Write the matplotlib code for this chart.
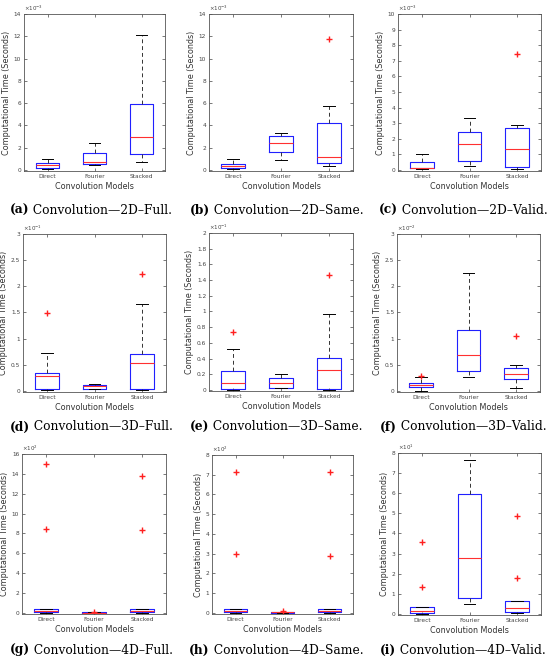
import matplotlib.pyplot as plt

models = ['Direct', 'Fourier', 'Stacked']

# per panel: one row per model -> (whislo, q1, med, q3, whishi), plus outliers
stats_2d_full = [(0.12, 0.2, 0.45, 0.66, 0.96), (0.45, 0.54, 0.69, 1.53, 2.45), (0.69, 1.47, 2.93, 5.95, 12.08)]
fliers_2d_full = [[], [], []]
stats_2d_same = [(0.05, 0.15, 0.36, 0.51, 1.02), (0.87, 1.65, 2.45, 3.05, 3.35), (0.39, 0.66, 1.17, 4.19, 5.71)]
fliers_2d_same = [[], [], [11.73]]
stats_2d_valid = [(0.06, 0.1, 0.15, 0.53, 1.05), (0.26, 0.58, 1.69, 2.46, 3.35), (0.09, 0.21, 1.35, 2.71, 2.88)]
fliers_2d_valid = [[], [], [7.45]]

stats_3d_full = [(0.01, 0.04, 0.28, 0.35, 0.72), (0.03, 0.04, 0.085, 0.12, 0.14), (0.02, 0.04, 0.53, 0.71, 1.67)]
fliers_3d_full = [[1.49], [], [2.24]]
stats_3d_same = [(0.0, 0.01, 0.093, 0.236, 0.52), (0.02, 0.03, 0.093, 0.15, 0.204), (0.005, 0.01, 0.258, 0.41, 0.97)]
fliers_3d_same = [[0.74], [], [1.46]]
stats_3d_valid = [(0.0, 0.07, 0.12, 0.16, 0.27), (0.26, 0.38, 0.68, 1.16, 2.25), (0.05, 0.23, 0.33, 0.43, 0.49)]
fliers_3d_valid = [[0.28], [], [1.05]]

stats_4d_full = [(0.0, 0.05, 0.2, 0.4, 0.4), (0.0, 0.01, 0.03, 0.06, 0.08), (0.0, 0.05, 0.2, 0.42, 0.42)]
fliers_4d_full = [[15.02, 8.44], [0.1], [13.8, 8.37]]
stats_4d_same = [(0.0, 0.03, 0.1, 0.22, 0.22), (0.0, 0.01, 0.04, 0.06, 0.06), (0.0, 0.03, 0.1, 0.22, 0.22)]
fliers_4d_same = [[7.15, 2.96], [0.1], [7.13, 2.89]]
stats_4d_valid = [(0.0, 0.05, 0.16, 0.32, 0.34), (0.48, 0.78, 2.76, 5.94, 7.66), (0.03, 0.07, 0.27, 0.66, 0.66)]
fliers_4d_valid = [[3.59, 1.33], [], [4.87, 1.79]]

exponents = [-3, -3, -3, -1, -1, -2, 2, 2, 1]
y_tops = [14, 14, 10, 3, 2, 3, 16, 8, 8]
y_steps = [2, 2, 1, 0.5, 0.2, 0.5, 2, 1, 1]
captions = [('(a)', 'Convolution—2D–Full.'), ('(b)', 'Convolution—2D–Same.'),
            ('(c)', 'Convolution—2D–Valid.'), ('(d)', 'Convolution—3D–Full.'),
            ('(e)', 'Convolution—3D–Same.'), ('(f)', 'Convolution—3D–Valid.'),
            ('(g)', 'Convolution—4D–Full.'), ('(h)', 'Convolution—4D–Same.'),
            ('(i)', 'Convolution—4D–Valid.')]

all_stats = [stats_2d_full, stats_2d_same, stats_2d_valid,
             stats_3d_full, stats_3d_same, stats_3d_valid,
             stats_4d_full, stats_4d_same, stats_4d_valid]
all_fliers = [fliers_2d_full, fliers_2d_same, fliers_2d_valid,
              fliers_3d_full, fliers_3d_same, fliers_3d_valid,
              fliers_4d_full, fliers_4d_same, fliers_4d_valid]

W, H = 550, 662
fig = plt.figure(figsize=(W / 100, H / 100), dpi=100)

# axes boxes in pixels: left, top, right, bottom
boxes = [(24, 14, 165, 171), (209, 14, 353, 171), (398, 14, 541, 171),
         (23, 234, 166, 392), (209, 233, 353, 391), (397, 234, 540, 392),
         (22, 454, 166, 614), (212, 455, 353, 614), (398, 453, 541, 615)]
caption_y = [210, 210, 210, 427, 427, 427, 650, 650, 650]
col_centers = [90, 275, 462]

for i in range(9):
    l, t, r, b = boxes[i]
    ax = fig.add_axes([l / W, 1 - b / H, (r - l) / W, (b - t) / H])
    bxp_stats = []
    for j, s in enumerate(all_stats[i]):
        bxp_stats.append(dict(whislo=s[0], q1=s[1], med=s[2], q3=s[3],
                              whishi=s[4], fliers=all_fliers[i][j]))
    ax.bxp(bxp_stats, positions=[1, 2, 3], widths=0.5,
           boxprops=dict(color='#2020ff', lw=0.8),
           medianprops=dict(color='#ff3030', lw=0.8),
           whiskerprops=dict(color='#333333', lw=0.7, ls=(0, (4, 3))),
           capprops=dict(color='black', lw=0.7),
           flierprops=dict(marker='+', color='#ff0000', markeredgecolor='#ff2020',
                           markersize=4.5, markeredgewidth=1.0))
    top = y_tops[i]
    ax.set_xlim(0.5, 3.5)
    ax.set_ylim(-top * 0.007, top)
    n = int(round(top / y_steps[i]))
    ticks = [k * y_steps[i] for k in range(n + 1)]
    ax.set_yticks(ticks)
    ax.set_yticklabels(['%g' % v for v in ticks])
    ax.set_xticks([1, 2, 3])
    ax.set_xticklabels(models)
    ax.tick_params(direction='in', labelsize=4.2, length=2, width=0.5,
                   top=True, right=True, pad=2, colors='#444444')
    for sp in ax.spines.values():
        sp.set_linewidth(0.6)
        sp.set_color('#555555')
    ax.set_xlabel('Convolution Models', fontsize=5.8, labelpad=2, color='#333333')
    ax.set_ylabel('Computational Time (Seconds)', fontsize=5.8, labelpad=2, color='#333333')
    ax.text(0.0, 1.005, r'$\times10^{%d}$' % exponents[i], transform=ax.transAxes,
            fontsize=4, ha='left', va='bottom', color='#444444')

    lab, rest = captions[i]
    cx = col_centers[i % 3] / W
    cy = 1 - caption_y[i] / H
    full_t = fig.text(cx, cy, lab + ' ' + rest, fontsize=8.8, ha='center', va='center',
                      family='DejaVu Serif', alpha=0)
    # bold label followed by regular text
    t1 = fig.text(cx, cy, lab, fontsize=8.8, ha='left', va='center',
                  family='DejaVu Serif', weight='bold')
    fig.canvas.draw()
    full = full_t.get_window_extent()
    w1 = t1.get_window_extent().width
    t1.set_x(full.x0 / fig.bbox.width)
    fig.text((full.x0 + w1) / fig.bbox.width, cy, ' ' + rest, fontsize=8.8,
             ha='left', va='center', family='DejaVu Serif')

fig.savefig('out.png', dpi=100)
